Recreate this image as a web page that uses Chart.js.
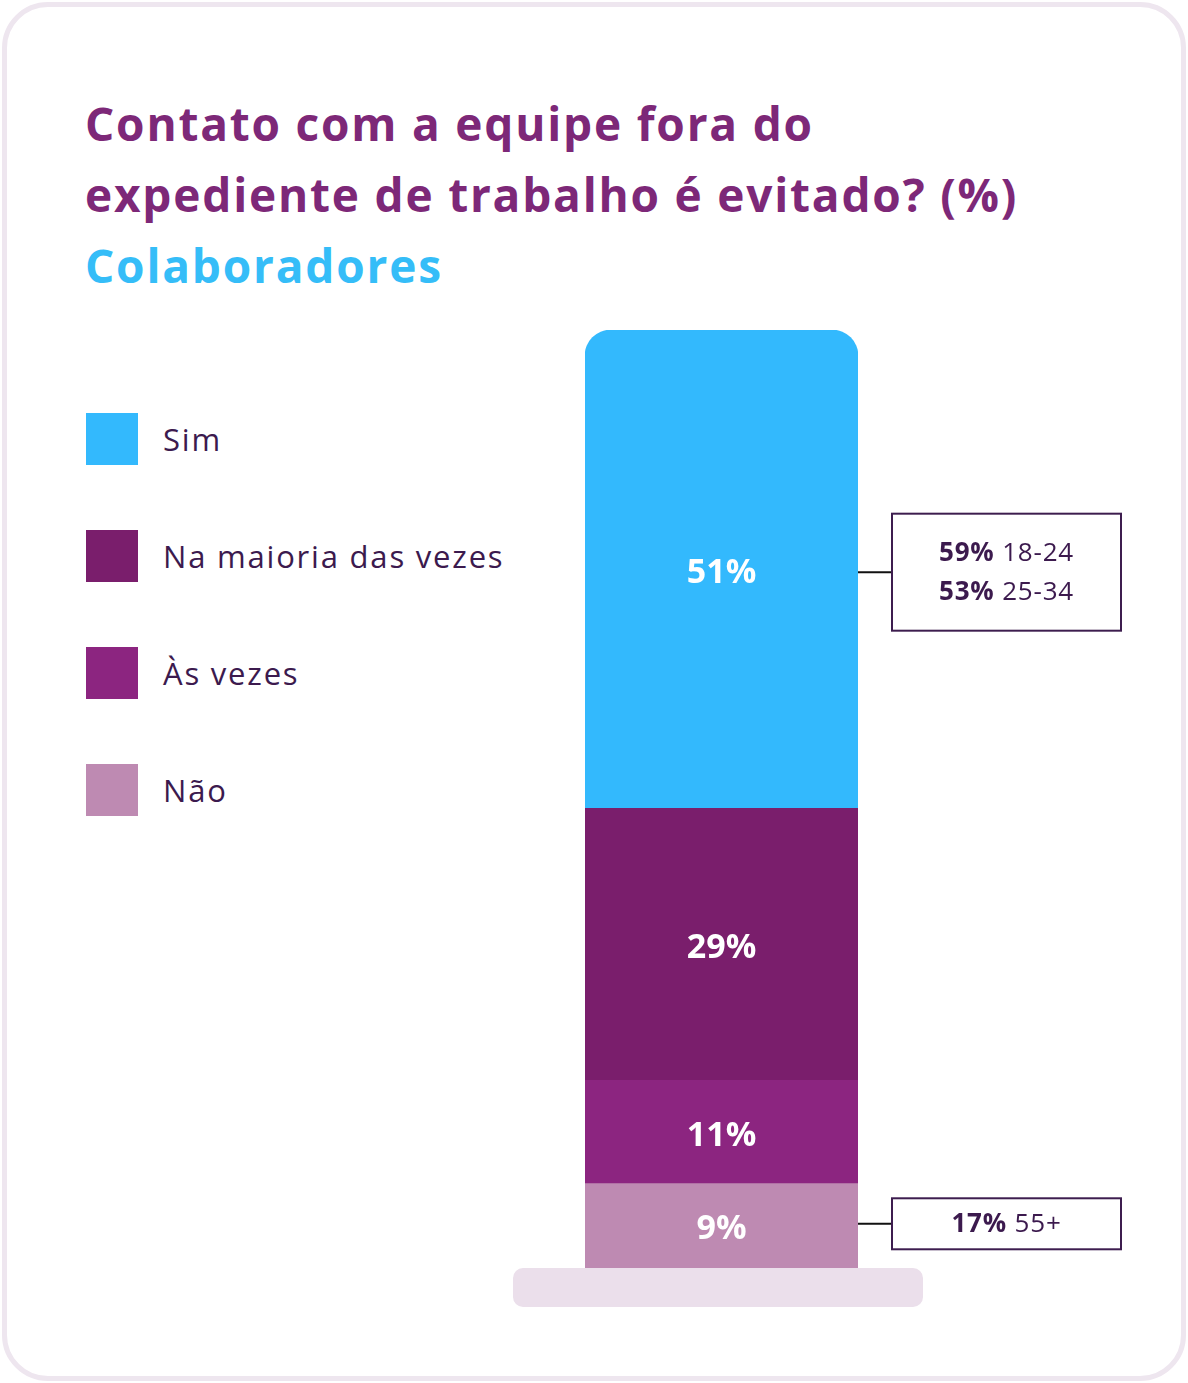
<!DOCTYPE html>
<html lang="pt">
  <head>
    <meta charset="UTF-8" />
    <title>Contato com a equipe fora do expediente</title>
    <script src="https://cdn.jsdelivr.net/npm/chart.js"></script>
    <style>
      body { margin: 0; background: #fff; font-family: "Open Sans", sans-serif; }
      #card {
        position: absolute; left: 2px; top: 2px; width: 1174px; height: 1369px;
        border: 5px solid #eee6ef; border-radius: 46px; background: #fff;
      }
      #title {
        position: absolute; left: 85px; top: 88px; margin: 0;
        font-size: 46px; line-height: 71px; font-weight: 700; color: #7d2878;
        letter-spacing: 1.8px;
      }
      #title span { color: #35bdf8; }
      #legend { position: absolute; left: 86px; top: 413px; }
      .item { display: flex; align-items: center; height: 52px; margin-bottom: 65px; }
      .box { width: 52px; height: 52px; margin-right: 25px; }
      .item div:last-child { font-size: 31px; color: #3c1a4e; letter-spacing: 1.8px; }
      canvas { position: absolute; left: 0; top: 0; }
    </style>
  </head>

  <body>
    <div id="card"></div>
    <h1 id="title">Contato com a equipe fora do<br />expediente de trabalho é evitado? (%)<br /><span>Colaboradores</span></h1>
    <div id="legend"></div>
    <canvas id="barChart" width="1188" height="1383"></canvas>

    <script>
      // bottom to top
      const categories = ["Colaboradores"];
      const seriesNames = ["Não", "Às vezes", "Na maioria das vezes", "Sim"];
      const seriesValues = [9, 11, 29, 51];
      const seriesColors = ["#be8ab2", "#8c2580", "#7a1e6c", "#33b9fd"];
      // callouts per series (index into seriesNames)
      const calloutNao = [["17%", "55+"]];
      const calloutSim = [["59%", "18-24"], ["53%", "25-34"]];
      const callouts = { 0: calloutNao, 3: calloutSim };

      const legendDiv = document.getElementById("legend");
      for (let i = seriesNames.length - 1; i >= 0; i--) {
        const item = document.createElement("div");
        item.className = "item";
        item.innerHTML = '<div class="box" style="background:' + seriesColors[i] + '"></div><div>' + seriesNames[i] + "</div>";
        legendDiv.appendChild(item);
      }

      const extras = {
        id: "extras",
        beforeDatasetsDraw(chart) {
          const ctx = chart.ctx;
          const a = chart.chartArea;
          ctx.save();
          ctx.fillStyle = "#ebdfeb";
          ctx.beginPath();
          ctx.roundRect(a.left - 72, a.bottom, a.right - a.left + 137, 39, 10);
          ctx.fill();
          ctx.restore();
        },
        afterDatasetsDraw(chart) {
          const ctx = chart.ctx;
          ctx.save();
          chart.data.datasets.forEach((ds, i) => {
            const bar = chart.getDatasetMeta(i).data[0];
            const cy = (bar.y + bar.base) / 2;
            ctx.fillStyle = "#fff";
            ctx.font = "700 34px 'Open Sans'";
            ctx.letterSpacing = "0px";
            ctx.textAlign = "center";
            ctx.textBaseline = "middle";
            ctx.fillText(ds.data[0] + "%", bar.x, cy + 4);

            const lines = callouts[i];
            if (!lines) return;
            const right = bar.x + bar.width / 2;
            const ly = cy + (lines.length > 1 ? 3 : -2);
            const bx = right + 34, bw = 229;
            const bh = lines.length === 1 ? 51 : 117;
            const by = ly - bh / 2;
            ctx.strokeStyle = "#111";
            ctx.lineWidth = 2;
            ctx.beginPath();
            ctx.moveTo(right, ly);
            ctx.lineTo(bx, ly);
            ctx.stroke();
            ctx.strokeStyle = "#3d1d4f";
            ctx.strokeRect(bx, by, bw, bh);
            ctx.fillStyle = "#3c1a4e";
            ctx.textAlign = "left";
            ctx.letterSpacing = "0.8px";
            lines.forEach((ln, k) => {
              const ty = ly + (k - (lines.length - 1) / 2) * 39 + 1;
              ctx.font = "700 26px 'Open Sans'";
              const w1 = ctx.measureText(ln[0] + " ").width;
              ctx.font = "400 26px 'Open Sans'";
              const w2 = ctx.measureText(ln[1]).width;
              const sx = bx + (bw - w1 - w2) / 2;
              ctx.font = "700 26px 'Open Sans'";
              ctx.fillText(ln[0], sx, ty);
              ctx.font = "400 26px 'Open Sans'";
              ctx.fillText(ln[1], sx + w1, ty);
            });
          });
          ctx.restore();
        },
      };

      new Chart(document.getElementById("barChart").getContext("2d"), {
        type: "bar",
        data: {
          labels: categories,
          datasets: seriesNames.map((name, i) => ({
            label: name,
            data: [seriesValues[i]],
            backgroundColor: seriesColors[i],
            barPercentage: 1,
            categoryPercentage: 1,
            borderSkipped: false,
            borderRadius: i === seriesNames.length - 1
              ? { topLeft: 26, topRight: 26, bottomLeft: 0, bottomRight: 0 }
              : 0,
          })),
        },
        options: {
          responsive: false,
          animation: false,
          layout: { padding: { left: 585, right: 330, top: 330, bottom: 115 } },
          plugins: { legend: { display: false }, tooltip: { enabled: false } },
          scales: {
            x: { stacked: true, display: false },
            y: { stacked: true, display: false, min: 0, max: 100 },
          },
        },
        plugins: [extras],
      });
    </script>
  </body>
</html>
